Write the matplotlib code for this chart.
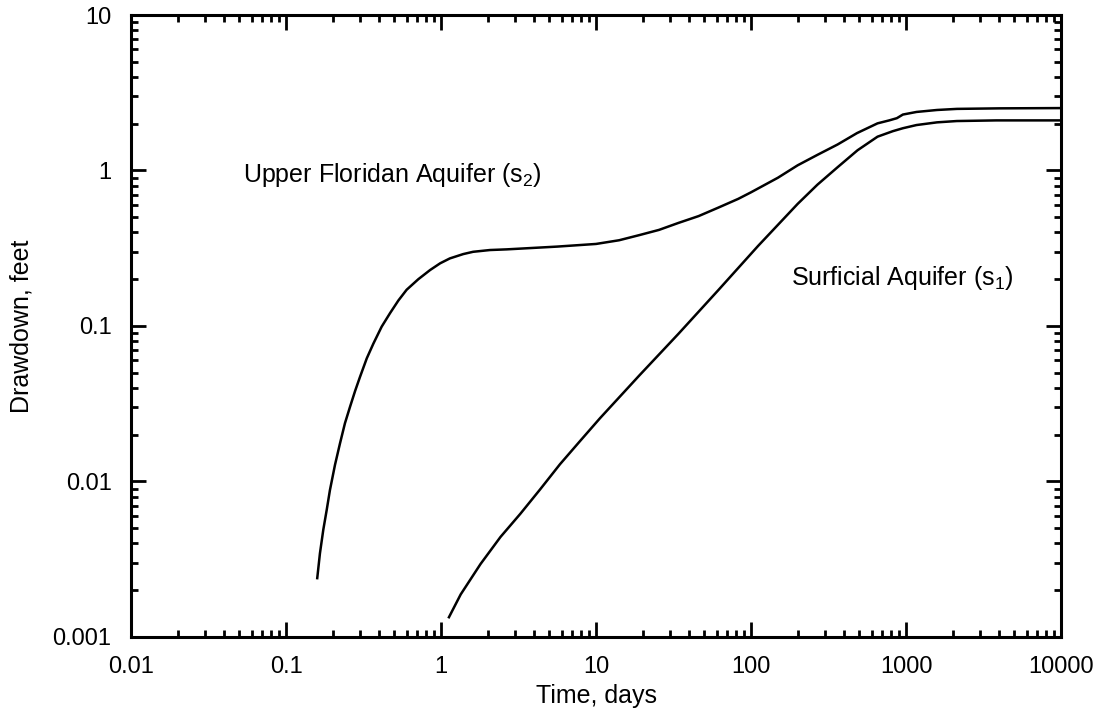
import matplotlib
matplotlib.use('Agg')
import matplotlib.pyplot as plt
from matplotlib.ticker import LogLocator, FixedLocator, FixedFormatter, NullFormatter

# Upper Floridan Aquifer (s2) drawdown vs time
t_upper = [0.159, 0.1655, 0.174, 0.183, 0.192, 0.207, 0.223, 0.240, 0.259, 0.279,
           0.30, 0.332, 0.366, 0.414, 0.469, 0.531, 0.60, 0.714, 0.85, 0.987,
           1.14, 1.39, 1.61, 2.07, 2.65, 5.6, 10, 14.1, 19, 25.5,
           34, 45.9, 61.5, 82.7, 100, 149, 200, 268, 362, 483,
           655, 779, 873, 955, 1170, 1585, 2130, 4000, 10000]
s_upper = [0.00239, 0.00345, 0.0049, 0.00656, 0.0088, 0.0128, 0.0176, 0.0237, 0.0303, 0.0382,
           0.047, 0.062, 0.077, 0.099, 0.121, 0.146, 0.171, 0.20, 0.229, 0.253,
           0.272, 0.290, 0.300, 0.308, 0.311, 0.324, 0.337, 0.356, 0.384, 0.415,
           0.46, 0.509, 0.577, 0.657, 0.724, 0.898, 1.08, 1.26, 1.47, 1.74,
           2.01, 2.10, 2.17, 2.29, 2.38, 2.45, 2.49, 2.51, 2.52]

# Surficial Aquifer (s1) drawdown vs time
t_surf = [1.125, 1.34, 1.8, 2.42, 3.25, 4.36, 5.85, 7.85,
          10.6, 19, 34, 61.5, 111, 200, 268, 362, 487, 655,
          822, 955, 1168, 1585, 2127, 3826, 10000]
s_surf = [0.00134, 0.00188, 0.00295, 0.0044, 0.0062, 0.0089, 0.0129, 0.0181,
          0.0255, 0.048, 0.089, 0.17, 0.327, 0.61, 0.81, 1.05, 1.35, 1.65,
          1.79, 1.87, 1.96, 2.04, 2.08, 2.10, 2.10]

x_ticks = [0.01, 0.1, 1, 10, 100, 1000, 10000]
x_labels = ['0.01', '0.1', '1', '10', '100', '1000', '10000']
y_ticks = [0.001, 0.01, 0.1, 1, 10]
y_labels = ['0.001', '0.01', '0.1', '1', '10']

plt.rcParams['font.family'] = ['Liberation Sans', 'DejaVu Sans']
plt.rcParams['mathtext.default'] = 'regular'

fig = plt.figure(figsize=(11.02, 7.11), dpi=100)
ax = fig.add_axes([0.1189, 0.1041, 0.8439, 0.8748])

ax.loglog(t_upper, s_upper, color='black', lw=1.8)
ax.loglog(t_surf, s_surf, color='black', lw=1.8)

ax.set_xlim(0.01, 10000)
ax.set_ylim(0.001, 10)

ax.xaxis.set_major_locator(FixedLocator(x_ticks))
ax.xaxis.set_major_formatter(FixedFormatter(x_labels))
ax.yaxis.set_major_locator(FixedLocator(y_ticks))
ax.yaxis.set_major_formatter(FixedFormatter(y_labels))
ax.xaxis.set_minor_locator(LogLocator(base=10, subs=range(2, 10), numticks=20))
ax.yaxis.set_minor_locator(LogLocator(base=10, subs=range(2, 10), numticks=20))
ax.xaxis.set_minor_formatter(NullFormatter())
ax.yaxis.set_minor_formatter(NullFormatter())

# ticks inside on all four sides
ax.tick_params(which='both', direction='in', top=True, right=True, width=2)
ax.tick_params(which='major', length=10.5, pad=14, labelsize=17)
ax.tick_params(which='minor', length=5)
for sp in ax.spines.values():
    sp.set_linewidth(2.2)

ax.set_xlabel('Time, days', fontsize=18, labelpad=4)
ax.set_ylabel('Drawdown, feet', fontsize=18, labelpad=14)

# curve labels, placed in figure pixels
ax.text(243, 711 - 175, r'Upper Floridan Aquifer (s$_{2}$)', fontsize=18,
        transform=None, va='center', ha='left')
ax.text(791, 711 - 278, r'Surficial Aquifer (s$_{1}$)', fontsize=18,
        transform=None, va='center', ha='left')

plt.savefig('out.png', dpi=100)
